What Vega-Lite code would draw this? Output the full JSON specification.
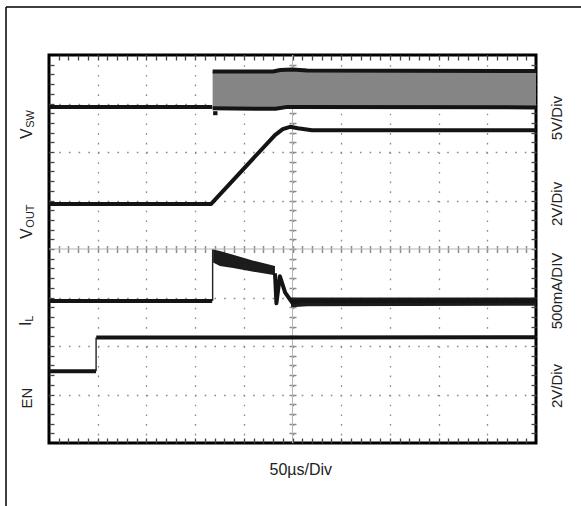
{
  "$schema": "https://vega.github.io/schema/vega-lite/v6.json",
  "width": 487,
  "height": 388,
  "autosize": {"type": "none"},
  "padding": {"left": 49, "top": 55, "right": 45, "bottom": 63},
  "background": "white",
  "config": {
    "view": {"stroke": "#000", "strokeWidth": 3},
    "text": {"font": "Liberation Sans", "color": "#222"}
  },
  "datasets": {
    "one": [{}],
    "traces": [
      {"seg": "vsw0", "t": 0, "v": 6.93},
      {"seg": "vsw0", "t": 3.35, "v": 6.93},
      {"seg": "vsw_top", "t": 3.36, "v": 7.66},
      {"seg": "vsw_top", "t": 4.6, "v": 7.66},
      {"seg": "vsw_top", "t": 4.75, "v": 7.69},
      {"seg": "vsw_top", "t": 5.0, "v": 7.7},
      {"seg": "vsw_top", "t": 5.3, "v": 7.68},
      {"seg": "vsw_top", "t": 10, "v": 7.67},
      {"seg": "vsw_bot", "t": 3.36, "v": 6.9},
      {"seg": "vsw_bot", "t": 4.65, "v": 6.89},
      {"seg": "vsw_bot", "t": 4.9, "v": 6.93},
      {"seg": "vsw_bot", "t": 10, "v": 6.92},
      {"seg": "vsw_dip", "t": 3.37, "v": 6.8},
      {"seg": "vsw_dip", "t": 3.46, "v": 6.8},
      {"seg": "vout", "t": 0, "v": 4.93},
      {"seg": "vout", "t": 3.33, "v": 4.93},
      {"seg": "vout", "t": 4.64, "v": 6.35},
      {"seg": "vout", "t": 4.8, "v": 6.47},
      {"seg": "vout", "t": 4.95, "v": 6.52},
      {"seg": "vout", "t": 5.11, "v": 6.49},
      {"seg": "vout", "t": 5.4, "v": 6.45},
      {"seg": "vout", "t": 10, "v": 6.45},
      {"seg": "il0", "t": 0, "v": 2.93},
      {"seg": "il0", "t": 3.35, "v": 2.93},
      {"seg": "il1", "t": 4.64, "v": 3.5},
      {"seg": "il1", "t": 4.67, "v": 2.88},
      {"seg": "il1", "t": 4.74, "v": 3.44},
      {"seg": "il1", "t": 4.85, "v": 3.1},
      {"seg": "il1", "t": 4.99, "v": 2.9},
      {"seg": "il1", "t": 5.2, "v": 2.93},
      {"seg": "il1", "t": 10, "v": 2.93},
      {"seg": "en0", "t": 0, "v": 1.48},
      {"seg": "en0", "t": 0.965, "v": 1.48},
      {"seg": "en1", "t": 0.97, "v": 2.175},
      {"seg": "en1", "t": 10, "v": 2.18}
    ],
    "steps": [
      {"trace": "IL", "t": 3.36, "v1": 2.93, "v2": 3.99},
      {"trace": "EN", "t": 0.967, "v1": 1.48, "v2": 2.175}
    ],
    "vsw_band": [
      {"t": 3.36, "hi": 7.66, "lo": 6.9},
      {"t": 4.6, "hi": 7.66, "lo": 6.89},
      {"t": 4.75, "hi": 7.69, "lo": 6.9},
      {"t": 5.0, "hi": 7.7, "lo": 6.93},
      {"t": 5.3, "hi": 7.68, "lo": 6.92},
      {"t": 10, "hi": 7.67, "lo": 6.92}
    ],
    "il_band": [
      {"seg": "a", "t": 3.37, "hi": 3.99, "lo": 3.72},
      {"seg": "a", "t": 3.51, "hi": 3.96, "lo": 3.65},
      {"seg": "a", "t": 3.78, "hi": 3.88, "lo": 3.61},
      {"seg": "a", "t": 4.2, "hi": 3.76, "lo": 3.53},
      {"seg": "a", "t": 4.64, "hi": 3.65, "lo": 3.46},
      {"seg": "b", "t": 4.97, "hi": 3.0, "lo": 2.8},
      {"seg": "b", "t": 5.3, "hi": 3.0, "lo": 2.82},
      {"seg": "b", "t": 10, "hi": 3.0, "lo": 2.83}
    ]
  },
  "resolve": {"axis": {"x": "independent", "y": "independent"}},
  "layer": [
    {
      "data": {"name": "one"},
      "mark": {"type": "rule", "color": "#b5b5b5", "strokeWidth": 1},
      "encoding": {
        "x": {"datum": 5, "type": "quantitative", "scale": {"domain": [0, 10], "nice": false}, "axis": null}
      }
    },
    {
      "data": {"name": "one"},
      "mark": {"type": "rule", "color": "#b5b5b5", "strokeWidth": 1},
      "encoding": {
        "y": {"datum": 4, "type": "quantitative", "scale": {"domain": [0, 8], "nice": false}, "axis": null}
      }
    },
    {
      "data": {"name": "vsw_band"},
      "mark": {"type": "area", "color": "#858585", "opacity": 1},
      "encoding": {
        "x": {"field": "t", "type": "quantitative", "scale": {"domain": [0, 10], "nice": false},
          "axis": {"orient": "bottom", "values": [1, 2, 3, 4, 5, 6, 7, 8, 9], "grid": true, "gridDash": [1.6, 8.1], "gridColor": "#8a8a8a", "gridWidth": 1.3, "ticks": false, "labels": false, "domain": false, "title": null}},
        "y": {"field": "hi", "type": "quantitative", "scale": {"domain": [0, 8], "nice": false},
          "axis": {"orient": "left", "values": [1, 2, 3, 5, 6, 7], "grid": true, "gridDash": [1.6, 8.1], "gridColor": "#8a8a8a", "gridWidth": 1.3, "ticks": false, "labels": false, "domain": false, "title": null}},
        "y2": {"field": "lo"}
      }
    },
    {
      "data": {"name": "il_band"},
      "mark": {"type": "area", "color": "#1c1c1c"},
      "encoding": {
        "x": {"field": "t", "type": "quantitative",
          "axis": {"orient": "top", "values": [0.2,0.4,0.6,0.8,1,1.2,1.4,1.6,1.8,2,2.2,2.4,2.6,2.8,3,3.2,3.4,3.6,3.8,4,4.2,4.4,4.6,4.8,5,5.2,5.4,5.6,5.8,6,6.2,6.4,6.6,6.8,7,7.2,7.4,7.6,7.8,8,8.2,8.4,8.6,8.8,9,9.2,9.4,9.6,9.8], "tickSize": -5, "tickWidth": 1.3, "tickColor": "#444", "grid": false, "labels": false, "domain": false, "title": null}},
        "y": {"field": "hi", "type": "quantitative",
          "axis": {"orient": "left", "values": [0.2,0.4,0.6,0.8,1,1.2,1.4,1.6,1.8,2,2.2,2.4,2.6,2.8,3,3.2,3.4,3.6,3.8,4,4.2,4.4,4.6,4.8,5,5.2,5.4,5.6,5.8,6,6.2,6.4,6.6,6.8,7,7.2,7.4,7.6,7.8], "tickSize": -5, "tickWidth": 1.3, "tickColor": "#444", "grid": false, "labels": false, "domain": false, "title": null}},
        "y2": {"field": "lo"},
        "detail": {"field": "seg"}
      }
    },
    {
      "data": {"name": "steps"},
      "mark": {"type": "rule", "color": "#222", "strokeWidth": 1.4},
      "encoding": {
        "x": {"field": "t", "type": "quantitative",
          "axis": {"orient": "bottom", "values": [0.2,0.4,0.6,0.8,1,1.2,1.4,1.6,1.8,2,2.2,2.4,2.6,2.8,3,3.2,3.4,3.6,3.8,4,4.2,4.4,4.6,4.8,5,5.2,5.4,5.6,5.8,6,6.2,6.4,6.6,6.8,7,7.2,7.4,7.6,7.8,8,8.2,8.4,8.6,8.8,9,9.2,9.4,9.6,9.8], "tickSize": -5, "tickWidth": 1.3, "tickColor": "#444", "grid": false, "labels": false, "domain": false, "title": null}},
        "y": {"field": "v1", "type": "quantitative",
          "axis": {"orient": "right", "values": [0.2,0.4,0.6,0.8,1,1.2,1.4,1.6,1.8,2,2.2,2.4,2.6,2.8,3,3.2,3.4,3.6,3.8,4,4.2,4.4,4.6,4.8,5,5.2,5.4,5.6,5.8,6,6.2,6.4,6.6,6.8,7,7.2,7.4,7.6,7.8], "tickSize": -5, "tickWidth": 1.3, "tickColor": "#444", "grid": false, "labels": false, "domain": false, "title": null}},
        "y2": {"field": "v2"}
      }
    },
    {
      "data": {"name": "traces"},
      "mark": {"type": "line", "color": "#141414", "strokeWidth": 4, "strokeJoin": "round"},
      "encoding": {
        "x": {"field": "t", "type": "quantitative",
          "axis": {"orient": "bottom", "offset": -197.5, "values": [0.2,0.4,0.6,0.8,1,1.2,1.4,1.6,1.8,2,2.2,2.4,2.6,2.8,3,3.2,3.4,3.6,3.8,4,4.2,4.4,4.6,4.8,5,5.2,5.4,5.6,5.8,6,6.2,6.4,6.6,6.8,7,7.2,7.4,7.6,7.8,8,8.2,8.4,8.6,8.8,9,9.2,9.4,9.6,9.8], "tickSize": 7, "tickWidth": 1.5, "tickColor": "#8c8c8c", "grid": false, "labels": false, "domain": false, "title": null}},
        "y": {"field": "v", "type": "quantitative",
          "axis": {"orient": "left", "offset": -247, "values": [0.2,0.4,0.6,0.8,1,1.2,1.4,1.6,1.8,2,2.2,2.4,2.6,2.8,3,3.2,3.4,3.6,3.8,4,4.2,4.4,4.6,4.8,5,5.2,5.4,5.6,5.8,6,6.2,6.4,6.6,6.8,7,7.2,7.4,7.6,7.8], "tickSize": 7, "tickWidth": 1.5, "tickColor": "#8c8c8c", "grid": false, "labels": false, "domain": false, "title": null}},
        "detail": {"field": "seg"}
      }
    },
    {
      "data": {"name": "one"},
      "mark": {"type": "rule", "color": "#000", "strokeWidth": 1.5},
      "encoding": {
        "x": {"datum": -0.883, "axis": null},
        "y": {"datum": 8.99, "axis": null},
        "y2": {"datum": -1.5}
      }
    },
    {
      "data": {"name": "one"},
      "mark": {"type": "rule", "color": "#000", "strokeWidth": 1.5},
      "encoding": {
        "x": {"datum": -0.883, "axis": null},
        "x2": {"datum": 11.2},
        "y": {"datum": 8.99, "axis": null}
      }
    },
    {
      "data": {"name": "one"},
      "mark": {"type": "text", "text": "V", "angle": 270, "align": "left", "baseline": "alphabetic", "fontSize": 16},
      "encoding": {"x": {"datum": -0.349, "axis": null}, "y": {"datum": 6.27, "axis": null}}
    },
    {
      "data": {"name": "one"},
      "mark": {"type": "text", "text": "SW", "angle": 270, "align": "left", "baseline": "alphabetic", "fontSize": 11},
      "encoding": {"x": {"datum": -0.308, "axis": null}, "y": {"datum": 6.5, "axis": null}}
    },
    {
      "data": {"name": "one"},
      "mark": {"type": "text", "text": "V", "angle": 270, "align": "left", "baseline": "alphabetic", "fontSize": 16},
      "encoding": {"x": {"datum": -0.349, "axis": null}, "y": {"datum": 4.207, "axis": null}}
    },
    {
      "data": {"name": "one"},
      "mark": {"type": "text", "text": "OUT", "angle": 270, "align": "left", "baseline": "alphabetic", "fontSize": 11},
      "encoding": {"x": {"datum": -0.308, "axis": null}, "y": {"datum": 4.44, "axis": null}}
    },
    {
      "data": {"name": "one"},
      "mark": {"type": "text", "text": "I", "angle": 270, "align": "left", "baseline": "alphabetic", "fontSize": 16},
      "encoding": {"x": {"datum": -0.37, "axis": null}, "y": {"datum": 2.41, "axis": null}}
    },
    {
      "data": {"name": "one"},
      "mark": {"type": "text", "text": "L", "angle": 270, "align": "left", "baseline": "alphabetic", "fontSize": 11},
      "encoding": {"x": {"datum": -0.32, "axis": null}, "y": {"datum": 2.5, "axis": null}}
    },
    {
      "data": {"name": "one"},
      "mark": {"type": "text", "text": "EN", "angle": 270, "align": "center", "baseline": "alphabetic", "fontSize": 15},
      "encoding": {"x": {"datum": -0.359, "axis": null}, "y": {"datum": 0.928, "axis": null}}
    },
    {
      "data": {"name": "one"},
      "mark": {"type": "text", "text": "5V/Div", "angle": 270, "align": "center", "baseline": "alphabetic", "fontSize": 15},
      "encoding": {"x": {"datum": 10.53, "axis": null}, "y": {"datum": 6.7, "axis": null}}
    },
    {
      "data": {"name": "one"},
      "mark": {"type": "text", "text": "2V/Div", "angle": 270, "align": "center", "baseline": "alphabetic", "fontSize": 15},
      "encoding": {"x": {"datum": 10.53, "axis": null}, "y": {"datum": 4.93, "axis": null}}
    },
    {
      "data": {"name": "one"},
      "mark": {"type": "text", "text": "500mA/DIV", "angle": 270, "align": "center", "baseline": "alphabetic", "fontSize": 15},
      "encoding": {"x": {"datum": 10.53, "axis": null}, "y": {"datum": 3.134, "axis": null}}
    },
    {
      "data": {"name": "one"},
      "mark": {"type": "text", "text": "2V/Div", "angle": 270, "align": "center", "baseline": "alphabetic", "fontSize": 15},
      "encoding": {"x": {"datum": 10.53, "axis": null}, "y": {"datum": 1.175, "axis": null}}
    },
    {
      "data": {"name": "one"},
      "mark": {"type": "text", "text": "50µs/Div", "align": "center", "baseline": "alphabetic", "fontSize": 16},
      "encoding": {"x": {"datum": 5.17, "axis": null}, "y": {"datum": -0.66, "axis": null}}
    }
  ]
}
